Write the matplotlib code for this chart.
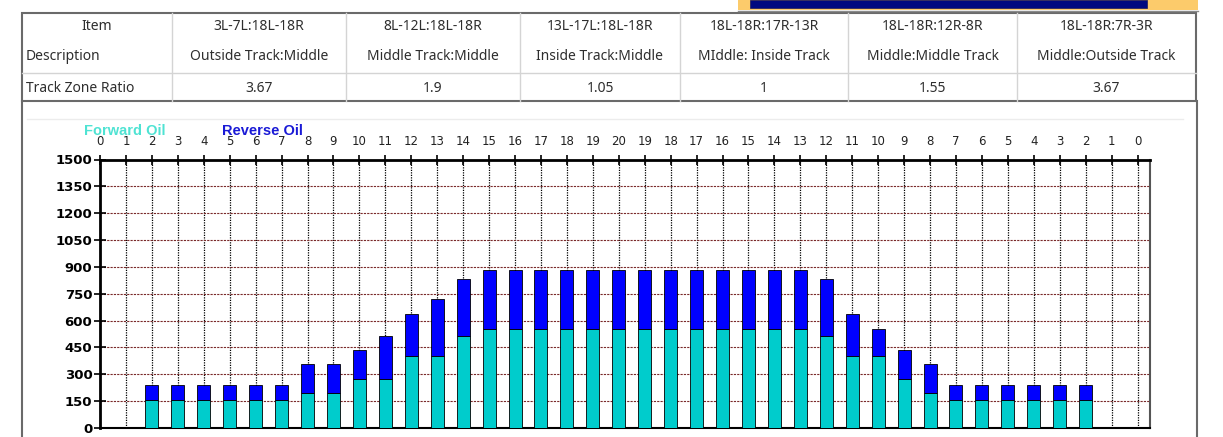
import matplotlib
matplotlib.use("Agg")
import matplotlib.pyplot as plt
from matplotlib.patches import Rectangle

# table contents
items = ["3L-7L:18L-18R", "8L-12L:18L-18R", "13L-17L:18L-18R",
         "18L-18R:17R-13R", "18L-18R:12R-8R", "18L-18R:7R-3R"]
descriptions = ["Outside Track:Middle", "Middle Track:Middle", "Inside Track:Middle",
                "MIddle: Inside Track", "Middle:Middle Track", "Middle:Outside Track"]
ratios = ["3.67", "1.9", "1.05", "1", "1.55", "3.67"]

# chart data: top axis labels and stacked oil values per position
top_labels = list(range(0, 21)) + list(range(19, -1, -1))
forward_oil = [0, 0, 155, 155, 155, 155, 155, 155, 195, 195, 275, 275, 400, 400, 515,
               555, 555, 555, 555, 555, 555, 555, 555, 555, 555, 555, 555, 555,
               515, 400, 400, 275, 195, 155, 155, 155, 155, 155, 155, 0, 0]
reverse_oil = [0, 0, 85, 85, 85, 85, 85, 85, 160, 160, 160, 240, 235, 320, 320,
               325, 325, 325, 325, 325, 325, 325, 325, 325, 325, 325, 325, 325,
               320, 235, 155, 160, 160, 85, 85, 85, 85, 85, 85, 0, 0]
y_ticks = list(range(0, 1501, 150))

W, H = 1223, 437
fig = plt.figure(figsize=(W / 100, H / 100), dpi=100)
plt.rcParams['font.family'] = ['Liberation Sans', 'DejaVu Sans']

# pixel-space overlay for the table and window frame
bg = fig.add_axes([0, 0, 1, 1])
bg.set_xlim(0, W)
bg.set_ylim(H, 0)
bg.axis("off")

# yellow/navy progress strip at the very top
bg.add_patch(Rectangle((738, 0), 460, 10, facecolor="#fccb6b", edgecolor="none"))
bg.add_patch(Rectangle((750, 0), 397, 8, facecolor="#000a80", edgecolor="#1a1a5a", lw=0.5))
bg.plot([738, 1198], [10.5, 10.5], color="#8a8a8a", lw=1)

col_edges = [22, 172, 346, 520, 680, 848, 1017, 1196]
top, mid, bot = 13, 73, 101
for x in col_edges[1:-1]:
    bg.plot([x, x], [top, bot], color="#d4d4d4", lw=1)
bg.plot([col_edges[0], col_edges[-1]], [mid, mid], color="#d4d4d4", lw=1)
bg.add_patch(Rectangle((col_edges[0], top), col_edges[-1] - col_edges[0], bot - top,
                       facecolor="none", edgecolor="#6a6a6a", lw=1.5))

tcol = "#2e2e2e"
tfont = dict(fontsize=10, color=tcol, family=["Noto Sans", "DejaVu Sans"])
bg.text((col_edges[0] + col_edges[1]) / 2, 27, "Item", ha="center", va="center", **tfont)
bg.text(26, 57, "Description", ha="left", va="center", **tfont)
bg.text(26, 88, "Track Zone Ratio", ha="left", va="center", **tfont)
for i in range(len(items)):
    cx = (col_edges[i + 1] + col_edges[i + 2]) / 2
    bg.text(cx, 27, items[i], ha="center", va="center", **tfont)
    bg.text(cx, 57, descriptions[i], ha="center", va="center", **tfont)
    bg.text(cx, 88, ratios[i], ha="center", va="center", **tfont)

# chart frame
bg.plot([22, 22], [bot, H], color="#6a6a6a", lw=1.5)
bg.plot([1197, 1197], [bot, H], color="#6a6a6a", lw=1.5)
bg.plot([27, 1183], [119, 119], color="#ececec", lw=1)

# legend labels (they sit over the top tick labels, as in the original)
bg.text(84, 131, "Forward Oil", ha="left", va="center", fontsize=10.5,
        fontweight="bold", color="#4fe3d3", zorder=5)
bg.text(222, 131, "Reverse Oil", ha="left", va="center", fontsize=10.5,
        fontweight="bold", color="#1a1ad6", zorder=5)

# main chart
ax = fig.add_axes([100 / W, 1 - 428 / H, 1050 / W, (428 - 159.5) / H])
ax.patch.set_alpha(0)
xs = list(range(len(top_labels)))
ax.bar(xs, forward_oil, width=0.5, color="#00cccc", edgecolor="black", lw=0.6, zorder=3)
ax.bar(xs, reverse_oil, width=0.5, bottom=forward_oil, color="#0000ff",
       edgecolor="black", lw=0.6, zorder=3)

ax.set_xlim(0, 40.48)
ax.set_ylim(0, 1500)
for x in xs[1:]:
    ax.axvline(x, color="black", lw=0.9, ls=(0, (1, 1)), zorder=1)
for y in y_ticks[1:-1]:
    ax.axhline(y, color="#7a2a2a", lw=0.8, ls=(0, (2, 1)), zorder=1)

ax.xaxis.tick_top()
ax.set_xticks(xs)
ax.set_xticklabels([str(v) for v in top_labels], fontsize=8.5, color="#222222",
                   family="DejaVu Sans")
ax.tick_params(axis="x", direction="inout", length=7, width=1.2, pad=4.5)
ax.set_yticks(y_ticks)
ax.set_yticklabels([str(v) for v in y_ticks], fontsize=9.5, fontweight="bold",
                   family="DejaVu Sans")
ax.tick_params(axis="y", direction="inout", length=8, width=1.2, pad=1.5)

ax.spines["top"].set_linewidth(2)
ax.spines["left"].set_linewidth(2)
ax.spines["bottom"].set_linewidth(1.5)
ax.spines["right"].set_linewidth(1.5)
ax.spines["right"].set_color("#555555")

fig.savefig("out.png", dpi=100)
